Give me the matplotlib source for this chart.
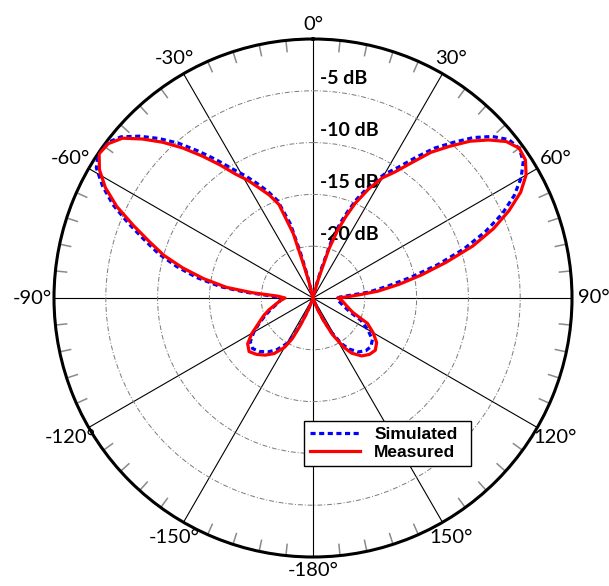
import numpy as np
import matplotlib.pyplot as plt

# pattern cut, degrees (0 = broadside, clockwise positive)
angles_deg = [-180, -165, -160, -157, -155, -153, -150, -145, -140, -135,
              -130, -125, -120, -115, -110, -105, -100, -95, -90, -87,
              -85, -83, -80, -77, -74, -71, -68, -65, -62, -59,
              -56, -53, -50, -47, -44, -41, -38, -35, -32, -29,
              -26, -23, -20, -17, -15.5, -14, -12, 0, 12, 14,
              16, 18, 20, 22, 24, 27, 30, 33, 36, 39,
              42, 45, 48, 51, 54, 57, 60, 63, 66, 69,
              72, 75, 78, 81, 84, 86, 88, 90, 95, 100,
              105, 110, 115, 120, 125, 130, 135, 140, 145, 148,
              152, 155, 158, 160, 165, 180]

simulated_db = [-25, -25, -24.5, -23.5, -22.4, -21.0, -19.9, -18.9, -18.2, -17.7,
                -17.4, -17.6, -18.4, -19.3, -20.1, -20.8, -21.4, -21.8, -21.9, -20.8,
                -18.4, -16.0, -13.6, -11.5, -9.5, -7.8, -5.8, -3.7, -2.0, -0.6,
                0.0, -0.1, -0.8, -2.1, -3.6, -5.2, -7.0, -8.7, -10.3, -11.5,
                -12.7, -13.8, -15.0, -17.5, -20.5, -22.8, -24.8, -25, -24.8, -23.8,
                -22.0, -19.0, -17.3, -15.9, -14.5, -12.7, -11.2, -10.0, -8.3, -6.4,
                -4.8, -3.1, -1.7, -0.7, -0.4, -0.8, -1.8, -3.2, -5.0, -7.2,
                -9.7, -12.5, -15.3, -17.7, -19.6, -21.5, -22.4, -22.6, -22.6, -22.3,
                -21.9, -21.3, -19.9, -18.9, -18.0, -17.7, -17.8, -18.2, -19.0, -19.8,
                -21.3, -22.8, -24.0, -24.6, -25, -25]

measured_db = [-25, -25, -24.3, -23.2, -22.0, -20.6, -19.5, -18.45, -17.8, -17.3,
               -16.95, -17.3, -18.2, -19.2, -19.9, -20.6, -21.3, -21.8, -22.3, -21.6,
               -19.1, -16.6, -14.3, -12.1, -10.0, -8.3, -6.3, -4.1, -2.3, -0.95,
               -0.1, -0.25, -1.0, -2.5, -4.1, -5.8, -7.6, -9.3, -10.9, -12.0,
               -13.2, -14.2, -15.4, -18.5, -22.0, -23.5, -25, -25, -25, -24.5,
               -23.0, -20.0, -18.0, -16.5, -15.0, -13.2, -11.6, -10.5, -8.9, -6.9,
               -5.3, -3.6, -2.2, -1.0, -0.4, -0.55, -1.25, -2.5, -4.3, -6.35,
               -8.8, -11.7, -14.3, -16.6, -18.7, -20.5, -21.7, -22.6, -22.2, -21.9,
               -21.5, -20.9, -19.2, -18.3, -17.5, -17.15, -17.3, -17.7, -18.5, -19.4,
               -21.0, -22.6, -23.8, -24.5, -25, -25]

ring_levels = [-20, -15, -10, -5]
ring_labels = ['-20 dB', '-15 dB', '-10 dB', '-5 dB']
spoke_angles = list(range(0, 360, 30))
spoke_labels = ['0°', '30°', '60°', '90°', '120°', '150°',
                '-180°', '-150°', '-120°', '-90°', '-60°', '-30°']
minor_angles = [a for a in range(0, 360, 6) if a % 30 != 0]

r_min, r_max = -25, 0
radius_px = 259

fig = plt.figure(figsize=(6.09, 5.86), dpi=100)
ax = fig.add_axes([54 / 609, 29 / 586, 518 / 609, 518 / 586], projection='polar')
ax.set_theta_zero_location('N')
ax.set_theta_direction(-1)
ax.set_ylim(r_min, r_max)
ax.set_axisbelow(True)

ax.set_xticks(np.deg2rad(spoke_angles))
ax.set_xticklabels([])
ax.set_yticks(ring_levels)
ax.set_yticklabels([])
ax.tick_params(axis='x', which='major', length=0)
ax.grid(axis='x', color='black', linewidth=0.8, linestyle='-')
ax.grid(axis='y', color='#7a7a7a', linewidth=0.7, linestyle=(0, (5, 2, 1, 2)))
ax.spines['polar'].set_linewidth(2.2)

# short inward ticks on the rim every 6 degrees
tick_len = 12 / radius_px * (r_max - r_min)
ax.vlines(np.deg2rad(minor_angles), r_max - tick_len, r_max,
          colors='#8a8a8a', linewidth=1.1, zorder=1)

theta = np.deg2rad(angles_deg)
ax.plot(theta, simulated_db, color='blue', linewidth=2.3,
        linestyle=(0, (1.6, 1.1)), label='Simulated', zorder=3)
ax.plot(theta, measured_db, color='red', linewidth=2.3,
        label='Measured', zorder=4)

# angle labels just outside the rim
for ang, lab in zip(spoke_angles, spoke_labels):
    dist = radius_px + 14 + 8 * abs(np.sin(np.deg2rad(ang)))
    r = r_min + dist / radius_px * (r_max - r_min)
    ax.text(np.deg2rad(ang), r, lab, ha='center', va='center',
            fontsize=14.5, family='Lato', clip_on=False)

# level labels along the 0 degree spoke
for lvl, lab in zip(ring_levels, ring_labels):
    ax.annotate(lab, xy=(0, lvl), xytext=(7, 12), textcoords='offset pixels',
                ha='left', va='center', fontsize=14, fontweight='bold',
                family='Lato')

# legend box spans x 304-471, y 421-468 px
leg = ax.legend(loc='upper left',
                bbox_to_anchor=(304 / 609, 1 - 468 / 586, 167 / 609, 47 / 586),
                bbox_transform=fig.transFigure, mode='expand',
                fancybox=False, framealpha=1, edgecolor='black',
                borderaxespad=0, borderpad=0.35, labelspacing=0.15,
                handlelength=2.9, handletextpad=0.8,
                prop={'family': 'Liberation Sans', 'weight': 'bold',
                      'size': 12.5})
leg.get_frame().set_linewidth(1.0)

fig.savefig('out.png', dpi=100)
